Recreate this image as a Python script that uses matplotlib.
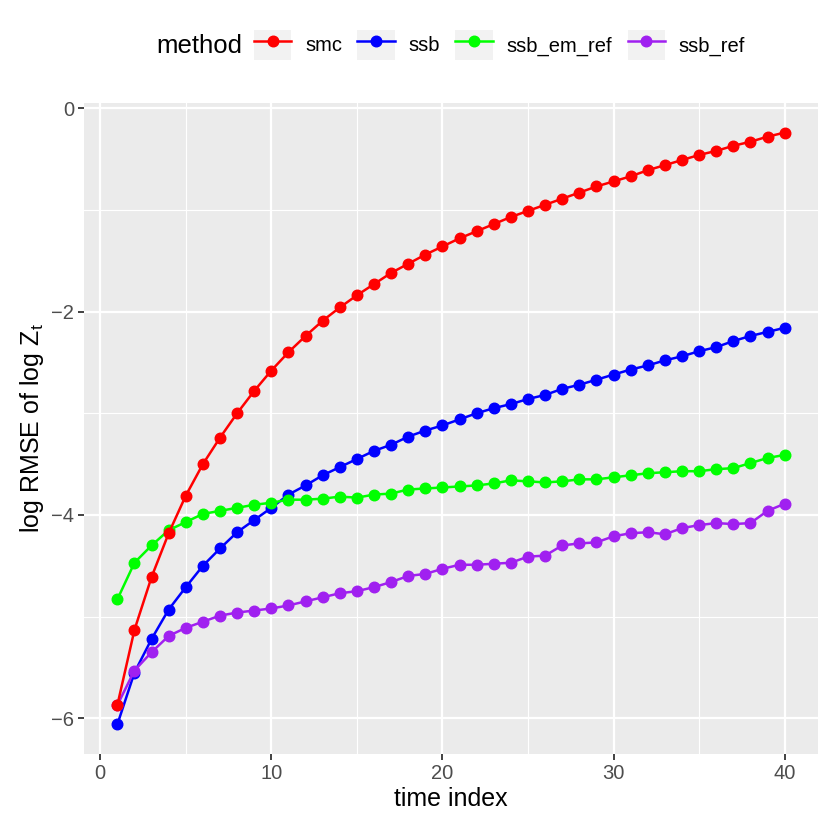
import numpy as np
import matplotlib
matplotlib.use("Agg")
import matplotlib.pyplot as plt
from matplotlib.patches import Rectangle
from matplotlib.legend_handler import HandlerLine2D
from matplotlib.ticker import MultipleLocator

plt.rcParams['font.family'] = ['Liberation Sans', 'DejaVu Sans']

time_index = list(range(1, 41))
smc = [-5.87, -5.13, -4.61, -4.18, -3.81, -3.50, -3.24, -3.00, -2.78, -2.58,
       -2.40, -2.24, -2.09, -1.96, -1.84, -1.73, -1.62, -1.53, -1.44, -1.36,
       -1.28, -1.21, -1.14, -1.07, -1.01, -0.95, -0.89, -0.83, -0.77, -0.72,
       -0.67, -0.61, -0.56, -0.51, -0.46, -0.42, -0.37, -0.33, -0.28, -0.24]
ssb = [-6.06, -5.55, -5.22, -4.93, -4.71, -4.50, -4.33, -4.17, -4.05, -3.93,
       -3.80, -3.71, -3.61, -3.53, -3.45, -3.37, -3.31, -3.23, -3.17, -3.12,
       -3.06, -3.00, -2.95, -2.91, -2.86, -2.82, -2.76, -2.72, -2.67, -2.62,
       -2.57, -2.53, -2.48, -2.44, -2.39, -2.35, -2.29, -2.24, -2.20, -2.16]
ssb_em_ref = [-4.83, -4.47, -4.30, -4.15, -4.07, -3.99, -3.96, -3.93, -3.90, -3.88,
              -3.85, -3.85, -3.84, -3.82, -3.83, -3.80, -3.79, -3.75, -3.74, -3.73,
              -3.72, -3.71, -3.69, -3.66, -3.67, -3.68, -3.67, -3.65, -3.65, -3.63,
              -3.61, -3.59, -3.58, -3.57, -3.57, -3.55, -3.54, -3.49, -3.44, -3.41]
ssb_ref = [-5.87, -5.53, -5.35, -5.19, -5.11, -5.05, -4.99, -4.96, -4.94, -4.92,
           -4.89, -4.85, -4.81, -4.77, -4.75, -4.71, -4.66, -4.60, -4.58, -4.53,
           -4.49, -4.49, -4.48, -4.47, -4.41, -4.40, -4.30, -4.28, -4.27, -4.21,
           -4.18, -4.17, -4.19, -4.13, -4.10, -4.08, -4.09, -4.08, -3.96, -3.89]

methods = ["smc", "ssb", "ssb_em_ref", "ssb_ref"]
series = [smc, ssb, ssb_em_ref, ssb_ref]
colors = ["#FF0000", "#0000FF", "#00FF00", "#A020F0"]
# red points sit on top of the others in the original
zorders = [6, 3, 4, 5]


class KeyHandler(HandlerLine2D):
    # grey square behind each legend key, like ggplot
    def create_artists(self, legend, orig_handle, xdescent, ydescent,
                       width, height, fontsize, trans):
        arts = super().create_artists(legend, orig_handle, xdescent, ydescent,
                                      width, height, fontsize, trans)
        rect = Rectangle((-xdescent, -ydescent), width, height,
                         facecolor="#F2F2F2", edgecolor="none", transform=trans)
        return [rect] + list(arts)


fig = plt.figure(figsize=(8.3, 8.3), dpi=100)
ax = fig.add_axes([84/830, 76/830, 734/830, 651/830])
ax.set_facecolor("#EBEBEB")

handles = []
for name, vals, col, z in zip(methods, series, colors, zorders):
    h, = ax.plot(time_index, vals, color=col, lw=1.8, marker="o", ms=7.6,
                 zorder=z, label=name)
    handles.append(h)

xmin, xmax = min(time_index), max(time_index)
allv = np.concatenate([np.array(s) for s in series])
ymin, ymax = allv.min(), allv.max()
dx = (xmax - xmin) * 0.05
dy = (ymax - ymin) * 0.05
ax.set_xlim(xmin - dx, xmax + dx)
ax.set_ylim(ymin - dy, ymax + dy)

ax.xaxis.set_major_locator(MultipleLocator(10))
ax.xaxis.set_minor_locator(MultipleLocator(5))
ax.yaxis.set_major_locator(MultipleLocator(2))
ax.yaxis.set_minor_locator(MultipleLocator(1))
ax.grid(which="major", color="white", lw=1.6)
ax.grid(which="minor", color="white", lw=0.8)
ax.set_axisbelow(True)
for s in ax.spines.values():
    s.set_visible(False)
ax.tick_params(which="major", length=4.5, width=1.3, color="#333333",
               labelcolor="#4D4D4D", labelsize=14.5, pad=2.5)
ax.tick_params(which="minor", length=0)
ax.set_yticks([-6, -4, -2, 0])
ax.set_yticklabels(["\u22126", "\u22124", "\u22122", "0"])

ax.set_xlabel("time index", fontsize=18, labelpad=3)
ax.set_ylabel(r"log RMSE of log $\mathregular{Z_t}$", fontsize=18, labelpad=4)

fig.text(156/830, 1 - 46/830, "method", fontsize=18.5, va="center", ha="left")
fig.legend(handles=handles, handler_map={h: KeyHandler(numpoints=1) for h in handles},
           loc="center left", bbox_to_anchor=(254/830, 1 - 45/830),
           ncol=4, frameon=False, fontsize=14.5, handlelength=1.85, handleheight=1.85,
           handletextpad=0.7, columnspacing=0.75, borderaxespad=0, borderpad=0)

fig.savefig("out.png", dpi=100)
